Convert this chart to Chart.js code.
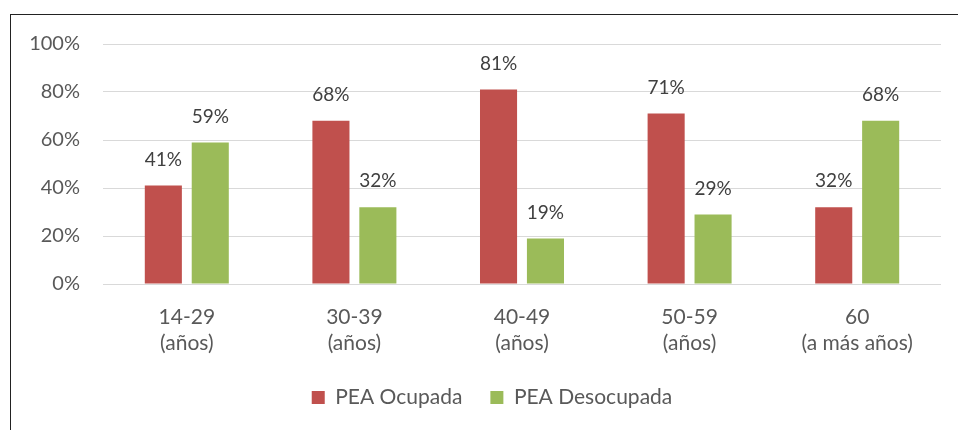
<!DOCTYPE html>
<html>
<head>
<meta charset="utf-8">
<script src="https://cdn.jsdelivr.net/npm/chart.js@4"></script>
<style>
  html, body { margin: 0; padding: 0; background: #fff; overflow: hidden; }
  #wrap { position: relative; width: 958px; height: 430px; }
  #frame { position: absolute; left: 10px; top: 14px; right: 0; bottom: 0;
           border-top: 1px solid #222; border-left: 1px solid #222; }
  canvas { position: absolute; left: 0; top: 0; }
</style>
</head>
<body>
<div id="wrap">
  <div id="frame"></div>
  <canvas id="chart1" width="958" height="430"></canvas>
</div>
<script>
var categories = [["14-29", "(años)"], ["30-39", "(años)"], ["40-49", "(años)"], ["50-59", "(años)"], ["60", "(a más años)"]];
var ocupada = [41, 68, 81, 71, 32];
var desocupada = [59, 32, 19, 29, 68];
var yTicks = [0, 20, 40, 60, 80, 100];

var fontName = "Lato, 'Open Sans', sans-serif";

// draws the value over each bar
var barLabels = {
    id: 'barLabels',
    afterDatasetsDraw: function(chart) {
        var ctx = chart.ctx;
        ctx.save();
        ctx.font = "19px " + fontName;
        ctx.fillStyle = "#404040";
        ctx.textAlign = "center";
        ctx.textBaseline = "middle";
        chart.data.datasets.forEach(function(ds, i) {
            var meta = chart.getDatasetMeta(i);
            meta.data.forEach(function(bar, j) {
                ctx.fillText(ds.data[j] + "%", bar.x, bar.y - 26);
            });
        });
        ctx.restore();
    }
};

// legend in the original sits a bit left of the plot centre
var legendShift = {
    id: 'legendShift',
    afterLayout: function(chart) {
        var lg = chart.legend;
        var dx = 492 - (lg.left + lg.right) / 2;
        lg.left += dx;
        lg.right += dx;
    }
};

var ctx = document.getElementById("chart1").getContext("2d");
var chart = new Chart(ctx, {
    type: 'bar',
    data: {
        labels: categories,
        datasets: [{
            label: "PEA Ocupada",
            backgroundColor: "#C0504D",
            data: ocupada
        }, {
            label: "PEA Desocupada",
            backgroundColor: "#9BBB59",
            data: desocupada
        }]
    },
    options: {
        responsive: false,
        animation: false,
        layout: { padding: { left: 28, right: 17, top: 44, bottom: 12 } },
        categoryPercentage: 0.56,
        barPercentage: 0.79,
        plugins: {
            tooltip: { enabled: false },
            legend: {
                position: 'bottom',
                labels: {
                    boxWidth: 13,
                    boxHeight: 13,
                    padding: 28,
                    color: "#595959",
                    font: { family: fontName, size: 21 }
                }
            }
        },
        scales: {
            x: {
                grid: { display: false },
                border: { display: false },
                ticks: {
                    color: "#595959",
                    padding: 12,
                    font: { family: fontName, size: 21, lineHeight: 1.25 }
                },
                afterFit: function(scale) { scale.height = 75; }
            },
            y: {
                min: 0,
                max: 100,
                afterBuildTicks: function(scale) {
                    scale.ticks = yTicks.map(function(v) { return { value: v }; });
                },
                afterFit: function(scale) { scale.width = 75; },
                grid: { color: "#d9d9d9", drawTicks: false },
                border: { display: false },
                ticks: {
                    color: "#595959",
                    padding: 23,
                    font: { family: fontName, size: 20 },
                    callback: function(v) { return v + "%"; }
                }
            }
        }
    },
    plugins: [barLabels, legendShift]
});
</script>
</body>
</html>
